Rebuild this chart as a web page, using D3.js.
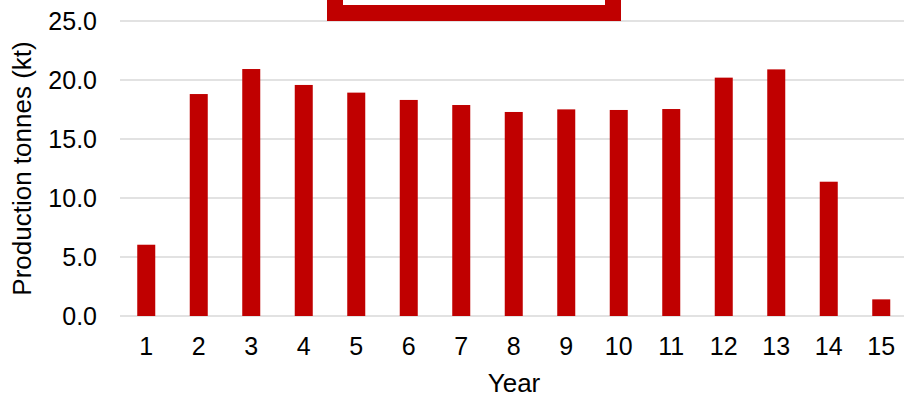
<!DOCTYPE html>
<html><head><meta charset="utf-8">
<script src="https://cdn.jsdelivr.net/npm/d3@7"></script>
<style>
html,body{margin:0;padding:0;background:#fff;}
svg{display:block;font-family:"Liberation Sans",Arial,sans-serif;}
</style></head>
<body>
<svg id="chart" width="904" height="396"></svg>
<script>
const years = ["1","2","3","4","5","6","7","8","9","10","11","12","13","14","15"];
const production = [6.04,18.81,20.93,19.58,18.93,18.31,17.88,17.29,17.51,17.46,17.54,20.20,20.90,11.38,1.41];
const yTicks = [0,5,10,15,20,25];
const yTitle = "Production tonnes (kt)";
const xTitle = "Year";

const svg = d3.select("#chart");
const W = 904, H = 396;
const mLeft = 120, mRight = 907.5, mTop = 21, mBottom = 316;

const x = d3.scaleBand().domain(years).range([mLeft, mRight]).paddingInner(0.657).paddingOuter(0.3285);
const y = d3.scaleLinear().domain([0,25]).range([mBottom, mTop]);

// gridlines
svg.append("g").selectAll("line").data(yTicks).join("line")
  .attr("x1", mLeft).attr("x2", W)
  .attr("y1", d=>y(d)).attr("y2", d=>y(d))
  .attr("stroke", "#d9d9d9").attr("stroke-width", 1.5);

// y tick labels
svg.append("g").selectAll("text").data(yTicks).join("text")
  .attr("x", 97).attr("y", d=>y(d)).attr("dy", "0.35em")
  .attr("text-anchor", "end").attr("font-size", 25).attr("fill", "#000")
  .text(d=>d3.format(".1f")(d));

// bars
svg.append("g").selectAll("rect").data(production).join("rect")
  .attr("x", (d,i)=>x(years[i])).attr("width", x.bandwidth())
  .attr("y", d=>y(d)).attr("height", d=>y(0)-y(d))
  .attr("fill", "#C00000");

// x tick labels
svg.append("g").selectAll("text").data(years).join("text")
  .attr("x", d=>x(d)+x.bandwidth()/2).attr("y", 355)
  .attr("text-anchor", "middle").attr("font-size", 25).attr("fill", "#000")
  .text(d=>d);

// axis titles
svg.append("text").attr("x", 514).attr("y", 392)
  .attr("text-anchor", "middle").attr("font-size", 26).attr("fill", "#000")
  .text(xTitle);
svg.append("text").attr("transform", "translate(31,168.5) rotate(-90)")
  .attr("text-anchor", "middle").attr("font-size", 26).attr("fill", "#000")
  .text(yTitle);

// clipped legend/title box at top
svg.append("rect").attr("x", 327).attr("y", -30).attr("width", 294).attr("height", 51).attr("fill", "#C00000");
svg.append("rect").attr("x", 343).attr("y", -30).attr("width", 262).attr("height", 35).attr("fill", "#fff");
</script>
</body></html>
